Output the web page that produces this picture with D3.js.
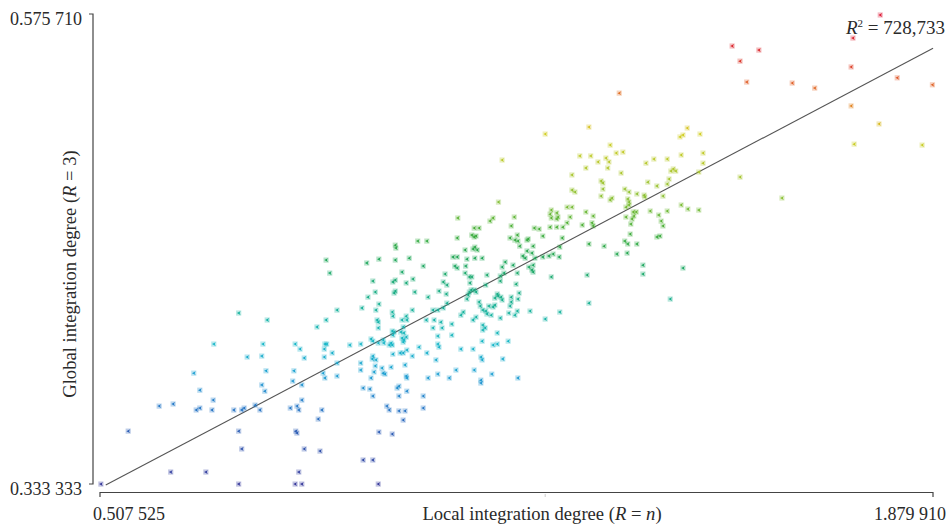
<!DOCTYPE html>
<html>
<head>
<meta charset="utf-8">
<script src="https://cdn.jsdelivr.net/npm/d3@7"></script>
<style>
    body { margin: 0; background: #fff; }
    svg text { font-family: 'Liberation Serif', 'DejaVu Serif', serif; fill: #2a2a2a; }
</style>
</head>
<body>
<svg id="chart" width="949" height="527"></svg>
<script>
// axis extents and end labels
const xDomain = [0.507525, 1.879910]
const yDomain = [0.333333, 0.575710]
const xTickLabels = ['0.507 525', '1.879 910']
const yTickLabels = ['0.333 333', '0.575 710']
const xMidMark = 1.241
const r2Label = '728,733'

// points: local integration (R = n) vs global integration (R = 3)
const localInt = [
    0.509, 0.554, 0.605, 0.628, 0.624, 0.682, 0.666, 0.672, 0.692, 0.694,
    0.672, 0.662, 0.695, 0.728, 0.741, 0.745, 0.763, 0.771, 0.736, 0.741,
    0.736, 0.779, 0.774, 0.781, 0.774, 0.776, 0.750, 0.736, 0.783, 0.821,
    0.832, 0.835, 0.840, 0.825, 0.840, 0.827, 0.844, 0.837, 0.829, 0.830,
    0.832, 0.835, 0.829, 0.840, 0.844, 0.870, 0.867, 0.873, 0.875, 0.878,
    0.898, 0.898, 0.877, 0.890, 0.877, 0.878, 0.881, 0.919, 0.937, 0.865,
    0.880, 0.898, 0.880, 0.886, 0.939, 0.941, 0.957, 0.966, 0.967, 0.989,
    1.007, 1.000, 1.010, 0.980, 0.984, 1.040, 1.040, 1.013, 1.000, 0.957,
    0.941, 0.952, 0.937, 0.954, 0.959, 0.961, 0.937, 0.956, 0.957, 0.962,
    0.972, 0.974, 0.977, 0.987, 1.010, 1.012, 1.013, 0.997, 1.000, 1.048,
    1.064, 1.083, 1.094, 1.124, 1.135, 1.135, 1.153, 1.196, 1.061, 1.022,
    1.013, 1.002, 1.007, 0.990, 0.984, 0.989, 1.033, 1.046, 1.064, 1.066,
    1.102, 1.122, 1.135, 1.137, 1.171, 1.155, 1.162, 1.180, 1.137, 1.162,
    1.138, 1.142, 1.138, 1.087, 1.064, 1.071, 1.056, 1.058, 1.069, 1.045,
    1.087, 1.122, 1.127, 1.102, 1.106, 1.134, 1.138, 1.145, 1.143, 1.152,
    1.148, 1.155, 1.158, 1.167, 1.181, 1.191, 1.195, 1.183, 1.185, 1.196,
    1.185, 1.162, 1.163, 1.170, 1.168, 1.158, 1.216, 1.132, 1.112, 1.114,
    1.116, 1.119, 1.124, 1.127, 1.117, 1.116, 1.120, 1.109, 1.110, 1.092,
    1.096, 1.079, 1.078, 1.066, 1.073, 1.076, 1.048, 1.026, 1.023, 1.012,
    1.005, 1.040, 0.992, 0.994, 0.990, 0.994, 0.994, 1.017, 0.967, 0.947,
    0.957, 0.961, 0.949, 0.962, 0.967, 0.964, 0.966, 0.966, 0.954, 0.957,
    0.966, 0.974, 0.975, 0.989, 0.990, 1.005, 1.007, 1.012, 1.013, 1.022,
    0.989, 0.992, 0.990, 1.003, 1.008, 1.012, 1.005, 1.008, 1.007, 0.987,
    1.089, 1.096, 1.112, 1.125, 1.137, 1.109, 1.122, 1.125, 1.129, 1.145,
    1.143, 1.167, 1.167, 1.173, 1.170, 1.175, 1.188, 1.195, 1.193, 1.198,
    1.204, 1.208, 1.211, 1.219, 1.221, 1.214, 1.219, 1.221, 1.221, 1.224,
    0.994, 0.995, 1.031, 1.046, 1.196, 1.199, 1.096, 1.124, 1.132, 1.150,
    1.185, 1.183, 1.191, 1.195, 1.211, 1.170, 1.164, 1.097, 1.155, 1.190,
    1.120, 1.124, 1.127, 1.213, 1.223, 1.231, 1.241, 1.313, 1.237, 1.247,
    1.254, 1.264, 1.265, 1.269, 1.237, 1.251, 1.249, 1.251, 1.260, 1.262,
    1.260, 1.249, 1.260, 1.270, 1.277, 1.282, 1.277, 1.285, 1.302, 1.308,
    1.318, 1.320, 1.320, 1.313, 1.338, 1.359, 1.376, 1.372, 1.377, 1.392,
    1.381, 1.382, 1.374, 1.384, 1.387, 1.391, 1.386, 1.379, 1.377, 1.379,
    1.372, 1.379, 1.374, 1.392, 1.404, 1.405, 1.414, 1.428, 1.432, 1.435,
    1.430, 1.425, 1.442, 1.435, 1.442, 1.425, 1.410, 1.445, 1.442, 1.448,
    1.452, 1.456, 1.420, 1.407, 1.465, 1.476, 1.494, 1.463, 1.468, 1.475,
    1.496, 1.465, 1.501, 1.501, 1.494, 1.402, 1.402, 1.468, 1.447, 1.313,
    1.310, 1.251, 1.366, 1.348, 1.358, 1.369, 1.316, 1.298, 1.328, 1.341,
    1.346, 1.344, 1.308, 1.285, 1.333, 1.336, 1.285, 1.290, 1.336, 1.333,
    1.348, 1.351, 1.265, 1.241, 1.549, 1.593, 1.562, 1.573, 1.648, 1.685,
    1.748, 1.745, 1.821, 1.879, 1.745, 1.791, 1.750, 1.862, 1.793, 1.363,
    1.562, 1.631, 1.056, 1.064, 1.073, 1.079
]
const globalInt = [
    0.3333, 0.3606, 0.3735, 0.3746, 0.3395, 0.3395, 0.3715, 0.3725, 0.3715, 0.3766,
    0.3817, 0.3905, 0.4055, 0.3715, 0.3715, 0.3725, 0.3740, 0.3715, 0.3606, 0.3514,
    0.3333, 0.3812, 0.3844, 0.3917, 0.3993, 0.4055, 0.3988, 0.4215, 0.4179, 0.3725,
    0.3735, 0.3715, 0.3766, 0.3864, 0.3844, 0.3917, 0.3983, 0.4029, 0.4055, 0.3606,
    0.3596, 0.3395, 0.3333, 0.3333, 0.3514, 0.3503, 0.3668, 0.3715, 0.3905, 0.3880,
    0.3890, 0.3957, 0.3988, 0.4009, 0.4029, 0.4055, 0.4055, 0.4050, 0.4055, 0.4143,
    0.4179, 0.4230, 0.4488, 0.4421, 0.4241, 0.3457, 0.3457, 0.3333, 0.3601, 0.3591,
    0.3663, 0.3710, 0.3710, 0.3735, 0.3715, 0.3787, 0.3725, 0.3812, 0.3787, 0.3787,
    0.3828, 0.3823, 0.3921, 0.3880, 0.3911, 0.3942, 0.3957, 0.3978, 0.3993, 0.3973,
    0.3931, 0.3905, 0.3900, 0.3936, 0.3947, 0.3890, 0.3880, 0.3828, 0.3838, 0.3880,
    0.3900, 0.3880, 0.3921, 0.3921, 0.3869, 0.3854, 0.3900, 0.3880, 0.3973, 0.3993,
    0.4024, 0.4009, 0.4009, 0.4003, 0.4050, 0.4050, 0.4039, 0.4009, 0.4055, 0.4039,
    0.4029, 0.4029, 0.3988, 0.3973, 0.3978, 0.4050, 0.4055, 0.4070, 0.4070, 0.4112,
    0.4127, 0.4138, 0.4153, 0.4101, 0.4096, 0.4138, 0.4138, 0.4179, 0.4168, 0.4179,
    0.4158, 0.4179, 0.4194, 0.4204, 0.4220, 0.4251, 0.4230, 0.4210, 0.4225, 0.4204,
    0.4251, 0.4246, 0.4256, 0.4189, 0.4215, 0.4204, 0.4225, 0.4251, 0.4272, 0.4287,
    0.4297, 0.4313, 0.4303, 0.4282, 0.4297, 0.4292, 0.4225, 0.4272, 0.4287, 0.4308,
    0.4323, 0.4334, 0.4334, 0.4323, 0.4370, 0.4401, 0.4401, 0.4421, 0.4457, 0.4457,
    0.4447, 0.4359, 0.4313, 0.4328, 0.4375, 0.4416, 0.4297, 0.4323, 0.4390, 0.4370,
    0.4426, 0.4457, 0.4318, 0.4328, 0.4375, 0.4385, 0.4488, 0.4498, 0.4493, 0.4473,
    0.4380, 0.4323, 0.4297, 0.4230, 0.4261, 0.4179, 0.4168, 0.4138, 0.4081, 0.4070,
    0.4060, 0.4076, 0.4060, 0.4220, 0.4199, 0.4179, 0.4143, 0.4199, 0.4179, 0.4230,
    0.4122, 0.4117, 0.4101, 0.4117, 0.4112, 0.4091, 0.4086, 0.4076, 0.4065, 0.4060,
    0.4504, 0.4504, 0.4493, 0.4498, 0.4498, 0.4540, 0.4545, 0.4555, 0.4540, 0.4411,
    0.4359, 0.4406, 0.4380, 0.4421, 0.4452, 0.4478, 0.4462, 0.4421, 0.4364, 0.4318,
    0.4509, 0.4498, 0.4535, 0.4524, 0.4462, 0.4452, 0.4437, 0.4426, 0.4560, 0.4498,
    0.4565, 0.4550, 0.4586, 0.4586, 0.4586, 0.4560, 0.4602, 0.4653, 0.4653, 0.4689,
    0.4664, 0.4602, 0.4591, 0.4617, 0.4591, 0.5004, 0.4787, 0.4705, 0.4705, 0.4710,
    0.4617, 0.4607, 0.4612, 0.4597, 0.4653, 0.4648, 0.5138, 0.5174, 0.4504, 0.4509,
    0.4519, 0.4504, 0.4555, 0.4602, 0.4612, 0.4746, 0.4725, 0.4705, 0.4731, 0.4710,
    0.4700, 0.4658, 0.4658, 0.4658, 0.4680, 0.4710, 0.4761, 0.4761, 0.4669, 0.4736,
    0.4680, 0.4664, 0.4715, 0.4571, 0.4560, 0.4519, 0.4524, 0.4586, 0.4571, 0.4571,
    0.4622, 0.4674, 0.4710, 0.4700, 0.4715, 0.4736, 0.4736, 0.4787, 0.4803, 0.4772,
    0.4854, 0.4839, 0.4761, 0.4829, 0.4823, 0.4813, 0.4741, 0.4720, 0.4689, 0.4664,
    0.4612, 0.4607, 0.4741, 0.4818, 0.4880, 0.4870, 0.4890, 0.4906, 0.5009, 0.4947,
    0.4958, 0.4947, 0.5009, 0.4988, 0.4772, 0.4751, 0.4746, 0.5123, 0.5133, 0.5169,
    0.5138, 0.5030, 0.4988, 0.5040, 0.4942, 0.4462, 0.4416, 0.4447, 0.4287, 0.4266,
    0.4411, 0.4401, 0.4937, 0.5081, 0.5040, 0.5045, 0.5025, 0.5025, 0.4994, 0.5014,
    0.4994, 0.4963, 0.4963, 0.4927, 0.4896, 0.4885, 0.4849, 0.4839, 0.4854, 0.4818,
    0.4798, 0.4808, 0.4220, 0.4184, 0.5592, 0.5571, 0.5514, 0.5406, 0.5401, 0.5375,
    0.5633, 0.5484, 0.5428, 0.5392, 0.5283, 0.5190, 0.5086, 0.5081, 0.5752, 0.5349,
    0.4916, 0.4808, 0.4230, 0.4230, 0.4241, 0.4266
]

// fitted line: y = slope * x + intercept, drawn over fitRange
const fitSlope = 0.1653
const fitIntercept = 0.2473
const fitRange = [0.517, 1.880]

// colour stops keyed on the global integration value
const colorStops = [0.3333, 0.3606, 0.3740, 0.3900, 0.4055, 0.4200, 0.4350, 0.4500, 0.4650, 0.4800, 0.4990, 0.5150, 0.5280, 0.5400, 0.5550, 0.5757]
const colorValues = ['#35379a', '#2a5cb4', '#2679c8', '#1d9fd2', '#16b6c8', '#15b3a2', '#18ab7c', '#1fa655', '#45ae36', '#88c034', '#b8c82a', '#d4cf22', '#e28420', '#e06028', '#da2a2c', '#de1c38']

const svg = d3.select('#chart')
const x = d3.scaleLinear().domain(xDomain).range([100, 933])
const y = d3.scaleLinear().domain(yDomain).range([484, 14])
const color = d3.scaleLinear().domain(colorStops).range(colorValues).clamp(true)

const points = localInt.map((v, i) => ({ x: v, y: globalInt[i] }))

// axes (drawn by hand: only end ticks are labelled)
const axisColor = '#444'
svg.append('path')
    .attr('d', `M89,${y(yDomain[1])}H93V${y(yDomain[0])}H89`)
    .attr('fill', 'none').attr('stroke', axisColor).attr('stroke-width', 1.2)
svg.append('path')
    .attr('d', `M${x(xDomain[0])},497V492.5H${x(xDomain[1])}V497`)
    .attr('fill', 'none').attr('stroke', axisColor).attr('stroke-width', 1.2)
svg.append('line')
    .attr('x1', x(xMidMark)).attr('x2', x(xMidMark))
    .attr('y1', 494).attr('y2', 497)
    .attr('stroke', '#ccc').attr('stroke-width', 1)

svg.append('text').attr('x', 82).attr('y', 25).attr('text-anchor', 'end')
    .attr('font-size', 18).text(yTickLabels[1])
svg.append('text').attr('x', 82).attr('y', 495).attr('text-anchor', 'end')
    .attr('font-size', 18).text(yTickLabels[0])
svg.append('text').attr('x', 93).attr('y', 520)
    .attr('font-size', 18).text(xTickLabels[0])
svg.append('text').attr('x', 946).attr('y', 520).attr('text-anchor', 'end')
    .attr('font-size', 18).text(xTickLabels[1])

const xTitle = svg.append('text').attr('x', 542).attr('y', 520).attr('text-anchor', 'middle')
    .attr('font-size', 18.6)
xTitle.append('tspan').text('Local integration degree (')
xTitle.append('tspan').attr('font-style', 'italic').text('R')
xTitle.append('tspan').text(' = ')
xTitle.append('tspan').attr('font-style', 'italic').text('n')
xTitle.append('tspan').text(')')

const yTitle = svg.append('text').attr('transform', 'translate(76,274) rotate(-90)')
    .attr('text-anchor', 'middle').attr('font-size', 18.6)
yTitle.append('tspan').text('Global integration degree (')
yTitle.append('tspan').attr('font-style', 'italic').text('R')
yTitle.append('tspan').text(' = 3)')

// regression line
svg.append('line')
    .attr('x1', x(fitRange[0])).attr('y1', y(fitSlope * fitRange[0] + fitIntercept))
    .attr('x2', x(fitRange[1])).attr('y2', y(fitSlope * fitRange[1] + fitIntercept))
    .attr('stroke', '#555').attr('stroke-width', 1.1)

// markers
const marks = svg.append('g').selectAll('g')
    .data(points)
    .join('g')
    .attr('transform', d => `translate(${x(d.x)},${y(d.y)})`)

marks.append('rect')
    .attr('x', -2.6).attr('y', -2.6).attr('width', 5.2).attr('height', 5.2)
    .attr('fill', d => color(d.y)).attr('opacity', 0.3)
marks.append('path')
    .attr('d', 'M1.8,-1.9L-1.8,0L1.8,1.9L0.9,0Z')
    .attr('fill', d => color(d.y))

// R squared label
const r2 = svg.append('text').attr('x', 945).attr('y', 34).attr('text-anchor', 'end')
    .attr('font-size', 19)
r2.append('tspan').attr('font-style', 'italic').text('R')
r2.append('tspan').attr('font-size', 11).attr('dy', -7).text('2')
r2.append('tspan').attr('dy', 7).text(' = ' + r2Label)
</script>
</body>
</html>
